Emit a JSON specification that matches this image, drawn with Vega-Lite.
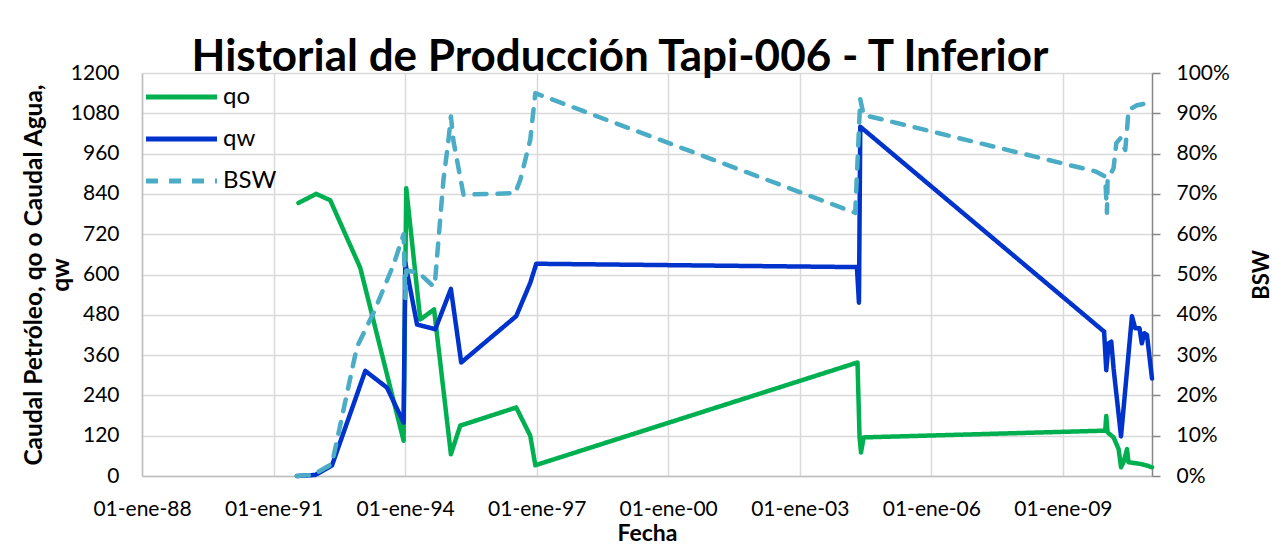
{
  "$schema": "https://vega.github.io/schema/vega-lite/v6.json",
  "width": 1010,
  "height": 403,
  "autosize": {"type": "none"},
  "padding": {"left": 142, "top": 73, "right": 120, "bottom": 71},
  "background": "white",
  "config": {"font": "Lato", "view": {"stroke": null}},
  "title": {"text": "Historial de Producción Tapi-006 - T Inferior", "font": "Lato", "fontSize": 44, "fontWeight": "bold", "color": "black", "anchor": "middle", "dx": -27, "offset": -18},
  "data": {"values": [
    {"fecha": "1991-07-27", "serie": "qo", "valor": 813},
    {"fecha": "1991-12-22", "serie": "qo", "valor": 840},
    {"fecha": "1992-04-17", "serie": "qo", "valor": 821},
    {"fecha": "1992-12-23", "serie": "qo", "valor": 620},
    {"fecha": "1993-12-19", "serie": "qo", "valor": 105},
    {"fecha": "1994-01-10", "serie": "qo", "valor": 857},
    {"fecha": "1994-05-07", "serie": "qo", "valor": 466},
    {"fecha": "1994-08-30", "serie": "qo", "valor": 496},
    {"fecha": "1995-01-17", "serie": "qo", "valor": 65},
    {"fecha": "1995-04-05", "serie": "qo", "valor": 150},
    {"fecha": "1996-07-14", "serie": "qo", "valor": 204},
    {"fecha": "1996-11-08", "serie": "qo", "valor": 120},
    {"fecha": "1996-12-20", "serie": "qo", "valor": 32},
    {"fecha": "2004-04-26", "serie": "qo", "valor": 338},
    {"fecha": "2004-05-13", "serie": "qo", "valor": 115},
    {"fecha": "2004-05-25", "serie": "qo", "valor": 70},
    {"fecha": "2004-06-16", "serie": "qo", "valor": 115},
    {"fecha": "2009-12-19", "serie": "qo", "valor": 135},
    {"fecha": "2009-12-28", "serie": "qo", "valor": 179},
    {"fecha": "2010-01-08", "serie": "qo", "valor": 130},
    {"fecha": "2010-02-27", "serie": "qo", "valor": 115},
    {"fecha": "2010-04-10", "serie": "qo", "valor": 80},
    {"fecha": "2010-04-30", "serie": "qo", "valor": 26},
    {"fecha": "2010-05-21", "serie": "qo", "valor": 41},
    {"fecha": "2010-06-19", "serie": "qo", "valor": 80},
    {"fecha": "2010-07-01", "serie": "qo", "valor": 41},
    {"fecha": "2010-10-07", "serie": "qo", "valor": 36},
    {"fecha": "2010-12-02", "serie": "qo", "valor": 31},
    {"fecha": "2011-01-13", "serie": "qo", "valor": 26},
    {"fecha": "1991-07-14", "serie": "qw", "valor": 0},
    {"fecha": "1991-12-13", "serie": "qw", "valor": 3},
    {"fecha": "1992-05-01", "serie": "qw", "valor": 31},
    {"fecha": "1993-02-03", "serie": "qw", "valor": 313},
    {"fecha": "1993-08-03", "serie": "qw", "valor": 263},
    {"fecha": "1993-12-19", "serie": "qw", "valor": 159},
    {"fecha": "1994-01-02", "serie": "qw", "valor": 635},
    {"fecha": "1994-04-10", "serie": "qw", "valor": 451},
    {"fecha": "1994-09-09", "serie": "qw", "valor": 437},
    {"fecha": "1995-01-17", "serie": "qw", "valor": 557},
    {"fecha": "1995-04-13", "serie": "qw", "valor": 338},
    {"fecha": "1996-07-14", "serie": "qw", "valor": 476},
    {"fecha": "1996-11-08", "serie": "qw", "valor": 575},
    {"fecha": "1996-12-28", "serie": "qw", "valor": 632},
    {"fecha": "2004-04-21", "serie": "qw", "valor": 622},
    {"fecha": "2004-05-08", "serie": "qw", "valor": 516},
    {"fecha": "2004-05-19", "serie": "qw", "valor": 1040},
    {"fecha": "2009-12-10", "serie": "qw", "valor": 430},
    {"fecha": "2009-12-28", "serie": "qw", "valor": 315},
    {"fecha": "2010-01-17", "serie": "qw", "valor": 395},
    {"fecha": "2010-02-08", "serie": "qw", "valor": 400},
    {"fecha": "2010-02-27", "serie": "qw", "valor": 320},
    {"fecha": "2010-04-30", "serie": "qw", "valor": 118},
    {"fecha": "2010-07-30", "serie": "qw", "valor": 476},
    {"fecha": "2010-08-26", "serie": "qw", "valor": 440},
    {"fecha": "2010-10-01", "serie": "qw", "valor": 440},
    {"fecha": "2010-10-20", "serie": "qw", "valor": 395},
    {"fecha": "2010-11-10", "serie": "qw", "valor": 425},
    {"fecha": "2010-12-02", "serie": "qw", "valor": 420},
    {"fecha": "2010-12-15", "serie": "qw", "valor": 380},
    {"fecha": "2011-01-13", "serie": "qw", "valor": 290},
    {"fecha": "1991-07-14", "serie": "BSW", "valor": 0},
    {"fecha": "1991-11-29", "serie": "BSW", "valor": 0.003},
    {"fecha": "1992-05-01", "serie": "BSW", "valor": 0.03},
    {"fecha": "1992-11-25", "serie": "BSW", "valor": 0.32},
    {"fecha": "1993-04-13", "serie": "BSW", "valor": 0.405},
    {"fecha": "1993-09-27", "serie": "BSW", "valor": 0.525},
    {"fecha": "1993-12-19", "serie": "BSW", "valor": 0.6},
    {"fecha": "1994-01-02", "serie": "BSW", "valor": 0.44},
    {"fecha": "1994-01-10", "serie": "BSW", "valor": 0.51},
    {"fecha": "1994-04-23", "serie": "BSW", "valor": 0.505},
    {"fecha": "1994-08-26", "serie": "BSW", "valor": 0.47},
    {"fecha": "1994-09-09", "serie": "BSW", "valor": 0.49},
    {"fecha": "1994-11-16", "serie": "BSW", "valor": 0.735},
    {"fecha": "1994-12-28", "serie": "BSW", "valor": 0.834},
    {"fecha": "1995-01-17", "serie": "BSW", "valor": 0.892},
    {"fecha": "1995-02-08", "serie": "BSW", "valor": 0.83},
    {"fecha": "1995-05-02", "serie": "BSW", "valor": 0.698},
    {"fecha": "1996-07-06", "serie": "BSW", "valor": 0.702},
    {"fecha": "1996-08-17", "serie": "BSW", "valor": 0.735},
    {"fecha": "1996-11-08", "serie": "BSW", "valor": 0.834},
    {"fecha": "1996-12-20", "serie": "BSW", "valor": 0.95},
    {"fecha": "2004-04-07", "serie": "BSW", "valor": 0.653},
    {"fecha": "2004-05-19", "serie": "BSW", "valor": 0.935},
    {"fecha": "2004-06-16", "serie": "BSW", "valor": 0.896},
    {"fecha": "2009-09-27", "serie": "BSW", "valor": 0.756},
    {"fecha": "2009-12-19", "serie": "BSW", "valor": 0.743},
    {"fecha": "2010-01-03", "serie": "BSW", "valor": 0.653},
    {"fecha": "2010-01-08", "serie": "BSW", "valor": 0.735},
    {"fecha": "2010-02-27", "serie": "BSW", "valor": 0.764},
    {"fecha": "2010-03-22", "serie": "BSW", "valor": 0.826},
    {"fecha": "2010-04-24", "serie": "BSW", "valor": 0.838},
    {"fecha": "2010-06-04", "serie": "BSW", "valor": 0.809},
    {"fecha": "2010-06-19", "serie": "BSW", "valor": 0.859},
    {"fecha": "2010-07-01", "serie": "BSW", "valor": 0.908},
    {"fecha": "2010-09-10", "serie": "BSW", "valor": 0.92},
    {"fecha": "2010-12-02", "serie": "BSW", "valor": 0.925}
  ]},
  "encoding": {
    "x": {
      "field": "fecha", "type": "temporal",
      "scale": {"type": "utc", "domain": [{"year": 1988, "month": 1, "date": 1, "utc": true}, {"year": 2011, "month": 1, "date": 13, "utc": true}]},
      "axis": {
        "values": [
          {"year": 1988, "month": 1, "date": 1, "utc": true},
          {"year": 1991, "month": 1, "date": 1, "utc": true},
          {"year": 1994, "month": 1, "date": 1, "utc": true},
          {"year": 1997, "month": 1, "date": 1, "utc": true},
          {"year": 2000, "month": 1, "date": 1, "utc": true},
          {"year": 2003, "month": 1, "date": 1, "utc": true},
          {"year": 2006, "month": 1, "date": 1, "utc": true},
          {"year": 2009, "month": 1, "date": 1, "utc": true}
        ],
        "format": "%d-ene-%y",
        "labelFont": "Lato", "labelFontSize": 21, "labelColor": "black",
        "labelPadding": 22, "labelFlush": false, "labelOverlap": false,
        "ticks": false, "tickSize": 0,
        "domainColor": "#BFBFBF", "domainWidth": 1.5,
        "grid": true, "gridColor": "#D9D9D9", "gridWidth": 1.5,
        "title": "Fecha", "titleFont": "Lato", "titleFontSize": 23, "titleFontWeight": "bold", "titleColor": "black",
        "titleBaseline": "alphabetic", "titleY": 64
      }
    },
    "color": {
      "field": "serie", "type": "nominal",
      "scale": {"domain": ["qo", "qw", "BSW"], "range": ["#00B050", "#0033CC", "#4BACC6"]},
      "legend": {"title": null, "orient": "none", "legendX": 19, "legendY": 3.5, "symbolType": "M-2,0H2", "symbolSize": 1260, "symbolStrokeWidth": 5, "labelFont": "Lato", "labelFontSize": 24, "labelColor": "black", "labelOffset": 21, "rowPadding": 9, "padding": 0}
    },
    "strokeDash": {
      "field": "serie", "type": "nominal",
      "scale": {"domain": ["qo", "qw", "BSW"], "range": [[1, 0], [1, 0], [12, 11]]},
      "legend": {"title": null, "orient": "none", "legendX": 19, "legendY": 3.5, "symbolType": "M-2,0H2", "symbolSize": 1260, "symbolStrokeWidth": 5, "labelFont": "Lato", "labelFontSize": 24, "labelColor": "black", "labelOffset": 21, "rowPadding": 9, "padding": 0}
    }
  },
  "layer": [
    {
      "transform": [{"filter": "datum.serie !== 'BSW'"}],
      "mark": {"type": "line", "strokeWidth": 4.5, "strokeCap": "round", "strokeJoin": "round"},
      "encoding": {
        "y": {
          "field": "valor", "type": "quantitative",
          "scale": {"domain": [0, 1200], "nice": false},
          "axis": {
            "values": [0, 120, 240, 360, 480, 600, 720, 840, 960, 1080, 1200],
            "format": "d",
            "labelFont": "Lato", "labelFontSize": 21, "labelColor": "black", "labelPadding": 23,
            "ticks": false, "tickSize": 0,
            "domainColor": "#BFBFBF", "domainWidth": 1.5,
            "grid": true, "gridColor": "#D9D9D9", "gridWidth": 1.5,
            "title": ["Caudal Petróleo, qo o Caudal Agua,", "qw"],
            "titleFont": "Lato", "titleFontSize": 24.5, "titleFontWeight": "bold", "titleColor": "black",
            "titleAngle": -90, "titleBaseline": "alphabetic", "titleX": -101, "titleLineHeight": 27
          }
        }
      }
    },
    {
      "transform": [{"filter": "datum.serie === 'BSW'"}],
      "mark": {"type": "line", "strokeWidth": 4.5, "strokeCap": "round", "strokeJoin": "round"},
      "encoding": {
        "y": {
          "field": "valor", "type": "quantitative",
          "scale": {"domain": [0, 1], "nice": false},
          "axis": {
            "orient": "right",
            "values": [0, 0.1, 0.2, 0.3, 0.4, 0.5, 0.6, 0.7, 0.8, 0.9, 1],
            "format": ".0%",
            "labelFont": "Lato", "labelFontSize": 21, "labelColor": "black", "labelPadding": 16,
            "ticks": true, "tickSize": 8, "tickColor": "#868686", "tickWidth": 1.5,
            "domainColor": "#868686", "domainWidth": 1.5,
            "grid": false,
            "title": "BSW",
            "titleFont": "Lato", "titleFontSize": 22, "titleFontWeight": "bold", "titleColor": "black",
            "titleAngle": -90, "titleBaseline": "alphabetic", "titleX": 116
          }
        }
      }
    }
  ],
  "resolve": {"scale": {"y": "independent"}}
}
